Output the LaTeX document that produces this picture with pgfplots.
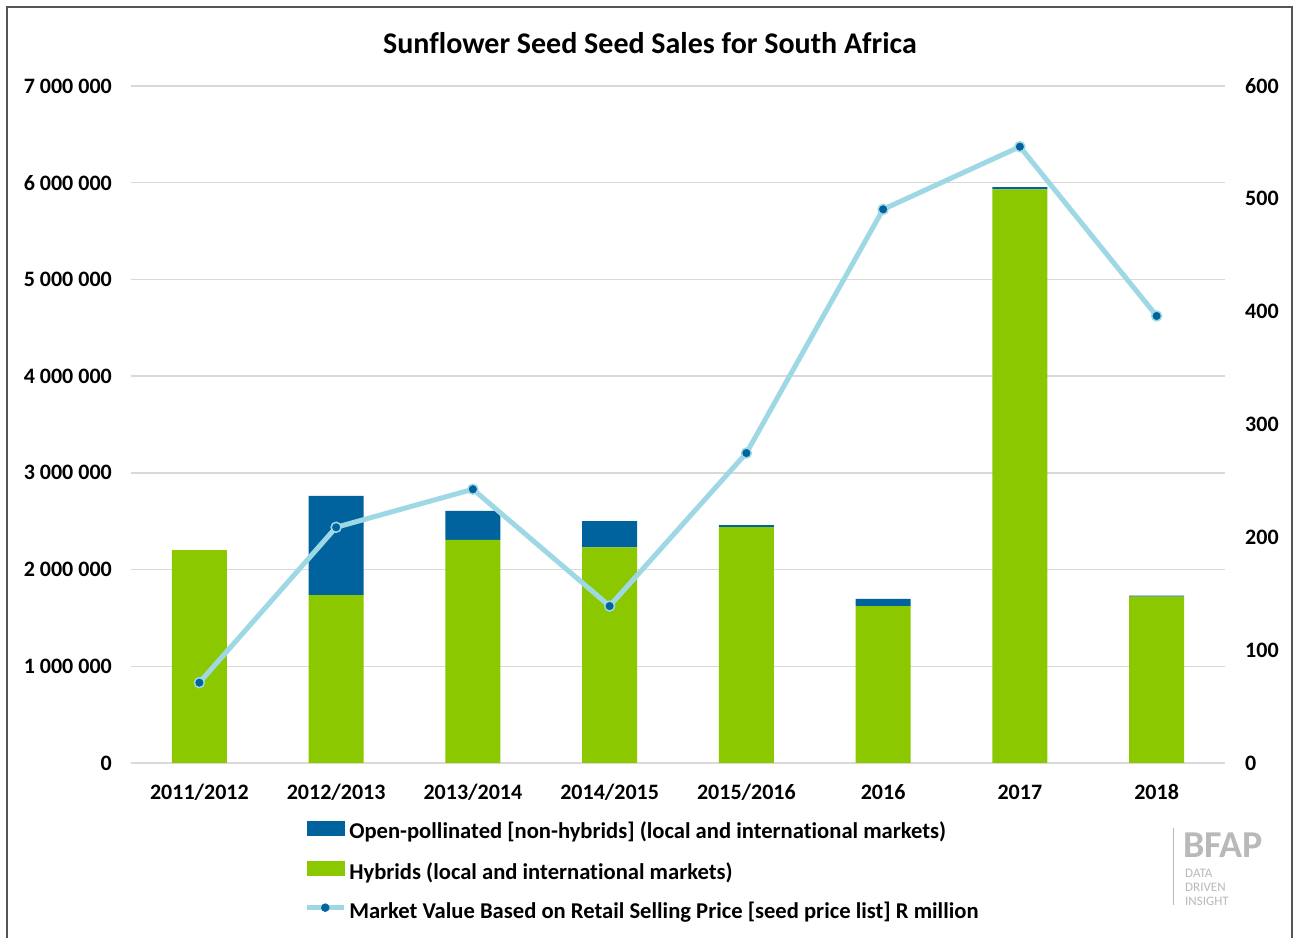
\documentclass[border=0pt]{standalone}
\usepackage{pgfplots}
\pgfplotsset{compat=1.18}
\usepackage{fontspec}
\setmainfont{Carlito}[Ligatures=NoCommon]
\definecolor{hyb}{RGB}{140,200,0}
\definecolor{opb}{RGB}{0,99,158}
\definecolor{linec}{RGB}{158,216,228}
\definecolor{gridc}{RGB}{217,217,217}
\definecolor{framec}{RGB}{85,85,85}
\definecolor{logoc}{RGB}{185,185,185}
\newcommand{\tickfont}{\bfseries\fontsize{22}{26}\selectfont}
\begin{document}
\begin{tikzpicture}[x=1pt,y=1pt]
\useasboundingbox (0pt,0pt) rectangle (1295pt,937pt);
\draw[line width=2.5pt, framec] (7pt,-5pt) -- (7pt,930pt) -- (1292pt,930pt) -- (1292pt,-5pt);
\node[font=\bfseries\fontsize{30}{36}\selectfont] at (650pt,894pt) {Sunflower Seed Seed Sales for South Africa};
% logo text
\draw[logoc, line width=1pt] (1173pt,109pt) -- (1173pt,32pt);
\node[anchor=base west, inner sep=0pt, logoc, font=\bfseries\fontsize{38}{40}\selectfont] at (1183pt,80pt) {BFAP};
\node[anchor=base west, inner sep=0pt, logoc, font=\fontsize{13}{14}\selectfont] at (1185pt,60pt) {DATA};
\node[anchor=base west, inner sep=0pt, logoc, font=\fontsize{13}{14}\selectfont] at (1185pt,46pt) {DRIVEN};
\node[anchor=base west, inner sep=0pt, logoc, font=\fontsize{13}{14}\selectfont] at (1185pt,32pt) {INSIGHT};

\begin{axis}[
  at={(131pt,174pt)}, anchor=south west, scale only axis,
  width=1094pt, height=677pt,
  xmin=-0.5, xmax=7.5, ymin=0, ymax=7000000,
  ybar stacked, bar width=55pt,
  xtick={0,...,7},
  xticklabels={2011/2012,2012/2013,2013/2014,2014/2015,2015/2016,2016,2017,2018},
  ytick={0,1000000,2000000,3000000,4000000,5000000,6000000,7000000},
  yticklabels={0,1~000~000,2~000~000,3~000~000,4~000~000,5~000~000,6~000~000,7~000~000},
  scaled y ticks=false,
  axis line style={draw=none}, major tick length=0pt,
  ymajorgrids, grid style={gridc, line width=1.5pt},
  ticklabel style={font=\tickfont, inner sep=0pt},
  yticklabel style={anchor=east, xshift=-19pt},
  xticklabel style={anchor=base, yshift=-37pt},
  clip=false,
]
\addplot[fill=hyb, draw=none] coordinates {(0,2202000) (1,1737000) (2,2306000) (3,2230000) (4,2440000) (5,1623000) (6,5930000) (7,1720000)};
\addplot[fill=opb, draw=none] coordinates {(0,0) (1,1024000) (2,300000) (3,272000) (4,20000) (5,75000) (6,25000) (7,10000)};
\end{axis}

\begin{axis}[
  at={(131pt,174pt)}, anchor=south west, scale only axis,
  width=1094pt, height=677pt,
  xmin=-0.5, xmax=7.5, ymin=0, ymax=600,
  axis y line*=right, hide x axis,
  axis line style={draw=none}, major tick length=0pt,
  ytick={0,100,200,300,400,500,600},
  yticklabels={0,100,200,300,400,500,600},
  ticklabel style={font=\tickfont, inner sep=0pt},
  yticklabel style={anchor=west, xshift=20pt},
  clip=false,
  legend style={at={(0.1582,-0.085)}, anchor=north west, draw=none, fill=none,
    font=\bfseries\fontsize{22.6}{26}\selectfont, inner sep=0pt, row sep=18pt,
    nodes={inner sep=0pt, text height=16pt, text depth=5pt}},
  legend cell align=left,
]
\addlegendimage{legend image code/.code={\fill[opb] (0pt,-2pt) rectangle (37pt,12pt);}}
\addlegendentry{\hspace{3pt}Open-pollinated [non-hybrids] (local and international markets)}
\addlegendimage{legend image code/.code={\fill[hyb] (0pt,-2pt) rectangle (37pt,12pt);}}
\addlegendentry{\hspace{3pt}Hybrids (local and international markets)}
\addlegendimage{legend image code/.code={\draw[linec, line width=5pt] (0pt,5pt) -- (37pt,5pt); \fill[opb] (18.5pt,5pt) circle (4pt);}}
\addlegendentry{\hspace{3pt}Market Value Based on Retail Selling Price [seed price list] R million}
\addplot[linec, line width=5pt, mark=*, mark size=5pt, mark options={fill=opb, draw=linec, line width=1.5pt}]
  coordinates {(0,71.2) (1,208.9) (2,242.6) (3,139.1) (4,274.7) (5,490.7) (6,546.2) (7,396.2)};
\end{axis}
\end{tikzpicture}
\end{document}
